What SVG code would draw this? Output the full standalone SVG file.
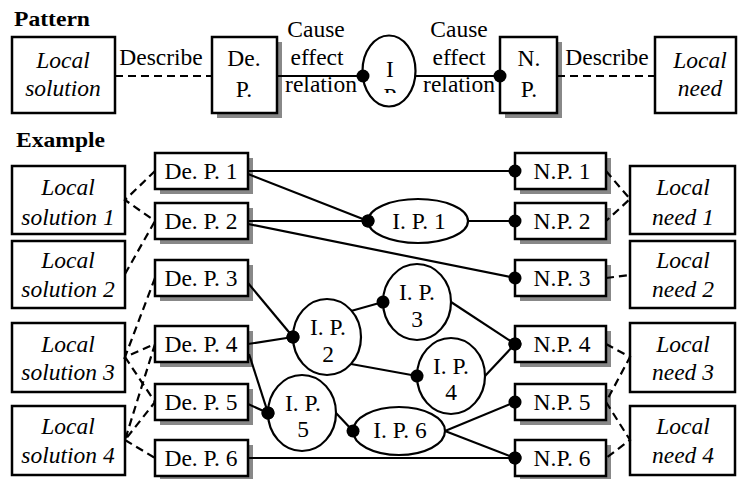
<svg xmlns="http://www.w3.org/2000/svg" width="739" height="479" viewBox="0 0 739 479" font-family="'Liberation Serif', 'DejaVu Serif', serif">
<defs>
<style>
.box{fill:#fff;stroke:#000;stroke-width:2.5}
.sh{fill:#888}
.el{fill:#fff;stroke:#000;stroke-width:2.2}
.ln{stroke:#000;stroke-width:2.2;fill:none}
.dl{stroke:#000;stroke-width:2.2;fill:none;stroke-dasharray:8 5}
text{font-family:'Liberation Serif','DejaVu Serif',serif}
.t{font-size:23.5px;text-anchor:middle;fill:#000}
.it{font-style:italic}
.h{font-size:21px;font-weight:bold;fill:#000}
</style>
<marker id="dot" viewBox="-7 -7 14 14" markerWidth="14" markerHeight="14" markerUnits="userSpaceOnUse" refX="0" refY="0" orient="auto">
<circle r="6.5" fill="#000"/>
</marker>
<clipPath id="ipclip"><rect x="360" y="35" width="60" height="58"/></clipPath>
</defs>
<rect width="739" height="479" fill="#fff"/>

<text class="h" x="14" y="26" textLength="76" lengthAdjust="spacingAndGlyphs">Pattern</text>
<text class="h" x="16" y="147" textLength="89" lengthAdjust="spacingAndGlyphs">Example</text>

<g id="p-local-solution">
<rect class="box" x="12" y="37" width="103" height="76"/>
<text class="t it" x="63" y="68">Local</text>
<text class="t it" x="63" y="96">solution</text>
</g>
<g id="p-dep">
<rect class="sh" x="217" y="42" width="65" height="76"/>
<rect class="box" x="212" y="37" width="65" height="76"/>
<text class="t" x="244" y="66">De.</text>
<text class="t" x="244" y="97">P.</text>
</g>
<g id="p-ip">
<ellipse class="el" cx="389" cy="71" rx="26.5" ry="35.5"/>
<text class="t" x="390" y="77">I</text>
<text class="t" x="390" y="104" clip-path="url(#ipclip)">P</text>
</g>
<g id="p-np">
<rect class="sh" x="505" y="42" width="57" height="76"/>
<rect class="box" x="500" y="37" width="57" height="76"/>
<text class="t" x="529" y="66">N.</text>
<text class="t" x="529" y="97">P.</text>
</g>
<g id="p-local-need">
<rect class="box" x="655" y="37" width="81" height="76"/>
<text class="t it" x="700" y="68">Local</text>
<text class="t it" x="700" y="96">need</text>
</g>

<g id="ls1"><rect class="box" x="12" y="166" width="113" height="68"/><text class="t it" x="68" y="195">Local</text><text class="t it" x="68" y="225">solution 1</text></g>
<g id="ls2"><rect class="box" x="12" y="241" width="113" height="67"/><text class="t it" x="68" y="268">Local</text><text class="t it" x="68" y="297">solution 2</text></g>
<g id="ls3"><rect class="box" x="12" y="323" width="113" height="69"/><text class="t it" x="68" y="352">Local</text><text class="t it" x="68" y="380">solution 3</text></g>
<g id="ls4"><rect class="box" x="12" y="406" width="113" height="69"/><text class="t it" x="68" y="434">Local</text><text class="t it" x="68" y="463">solution 4</text></g>

<g id="dep1"><rect class="sh" x="160" y="158" width="93" height="36"/><rect class="box" x="155" y="153" width="93" height="36"/><text class="t" x="201" y="179">De. P. 1</text></g>
<g id="dep2"><rect class="sh" x="160" y="208" width="93" height="36"/><rect class="box" x="155" y="203" width="93" height="36"/><text class="t" x="201" y="229">De. P. 2</text></g>
<g id="dep3"><rect class="sh" x="160" y="265" width="93" height="36"/><rect class="box" x="155" y="260" width="93" height="36"/><text class="t" x="201" y="286">De. P. 3</text></g>
<g id="dep4"><rect class="sh" x="160" y="331" width="93" height="36"/><rect class="box" x="155" y="326" width="93" height="36"/><text class="t" x="201" y="352">De. P. 4</text></g>
<g id="dep5"><rect class="sh" x="160" y="389" width="93" height="36"/><rect class="box" x="155" y="384" width="93" height="36"/><text class="t" x="201" y="410">De. P. 5</text></g>
<g id="dep6"><rect class="sh" x="160" y="445" width="93" height="36"/><rect class="box" x="155" y="440" width="93" height="36"/><text class="t" x="201" y="466">De. P. 6</text></g>

<g id="ip1"><ellipse class="el" cx="418" cy="221" rx="50" ry="22"/><text class="t" x="419" y="229">I. P. 1</text></g>
<g id="ip2"><ellipse class="el" cx="327" cy="337" rx="34" ry="38"/><text class="t" x="328" y="335">I. P.</text><text class="t" x="328" y="362">2</text></g>
<g id="ip3"><ellipse class="el" cx="417" cy="302" rx="34" ry="38"/><text class="t" x="417" y="300">I. P.</text><text class="t" x="417" y="327">3</text></g>
<g id="ip4"><ellipse class="el" cx="451" cy="376" rx="34" ry="38"/><text class="t" x="451" y="374">I. P.</text><text class="t" x="451" y="400">4</text></g>
<g id="ip5"><ellipse class="el" cx="302" cy="413" rx="34" ry="38"/><text class="t" x="303" y="411">I. P.</text><text class="t" x="303" y="437">5</text></g>
<g id="ip6"><ellipse class="el" cx="399" cy="431" rx="46" ry="24"/><text class="t" x="400" y="438">I. P. 6</text></g>

<g id="np1"><rect class="sh" x="520" y="158" width="91" height="36"/><rect class="box" x="515" y="153" width="91" height="36"/><text class="t" x="562" y="179">N.P. 1</text></g>
<g id="np2"><rect class="sh" x="520" y="208" width="91" height="36"/><rect class="box" x="515" y="203" width="91" height="36"/><text class="t" x="562" y="229">N.P. 2</text></g>
<g id="np3"><rect class="sh" x="520" y="265" width="91" height="36"/><rect class="box" x="515" y="260" width="91" height="36"/><text class="t" x="562" y="286">N.P. 3</text></g>
<g id="np4"><rect class="sh" x="520" y="331" width="91" height="36"/><rect class="box" x="515" y="326" width="91" height="36"/><text class="t" x="562" y="352">N.P. 4</text></g>
<g id="np5"><rect class="sh" x="520" y="389" width="91" height="36"/><rect class="box" x="515" y="384" width="91" height="36"/><text class="t" x="562" y="410">N.P. 5</text></g>
<g id="np6"><rect class="sh" x="520" y="445" width="91" height="36"/><rect class="box" x="515" y="440" width="91" height="36"/><text class="t" x="562" y="466">N.P. 6</text></g>

<g id="ln1"><rect class="box" x="630" y="166" width="105" height="68"/><text class="t it" x="683" y="195">Local</text><text class="t it" x="683" y="225">need 1</text></g>
<g id="ln2"><rect class="box" x="630" y="241" width="105" height="67"/><text class="t it" x="683" y="268">Local</text><text class="t it" x="683" y="297">need 2</text></g>
<g id="ln3"><rect class="box" x="630" y="323" width="105" height="69"/><text class="t it" x="683" y="352">Local</text><text class="t it" x="683" y="380">need 3</text></g>
<g id="ln4"><rect class="box" x="630" y="406" width="105" height="69"/><text class="t it" x="683" y="434">Local</text><text class="t it" x="683" y="463">need 4</text></g>

<g id="connectors">
<line class="dl" x1="115" y1="76" x2="212" y2="76"/>
<text class="t" x="161" y="65">Describe</text>
<line class="ln" x1="277" y1="76" x2="363" y2="76" marker-end="url(#dot)"/>
<text class="t" x="316" y="37">Cause</text>
<text class="t" x="317" y="65">effect</text>
<text class="t" x="321" y="92">relation</text>
<line class="ln" x1="416" y1="76" x2="500" y2="76" marker-end="url(#dot)"/>
<text class="t" x="459" y="37">Cause</text>
<text class="t" x="459" y="65">effect</text>
<text class="t" x="459" y="92">relation</text>
<line class="dl" x1="557" y1="76" x2="655" y2="76"/>
<text class="t" x="607" y="65">Describe</text>

<path class="dl" d="M155,171 L125,200 L155,221"/>
<path class="dl" d="M125,274 L155,221"/>
<path class="dl" d="M155,278 L125,357 L155,344 M125,357 L155,402"/>
<path class="dl" d="M155,344 L125,440 L155,402 M125,440 L155,458"/>
<path class="dl" d="M606,171 L630,199 L606,221"/>
<path class="dl" d="M606,278 L630,275"/>
<path class="dl" d="M606,344 L630,357 L606,402"/>
<path class="dl" d="M606,402 L630,440 L606,458"/>

<line class="ln" x1="248" y1="171" x2="515" y2="171" marker-end="url(#dot)"/>
<line class="ln" x1="248" y1="174" x2="368" y2="221" marker-end="url(#dot)"/>
<line class="ln" x1="248" y1="221" x2="368" y2="221" marker-end="url(#dot)"/>
<line class="ln" x1="248" y1="224" x2="515" y2="278" marker-end="url(#dot)"/>
<line class="ln" x1="468" y1="221" x2="515" y2="221" marker-end="url(#dot)"/>
<line class="ln" x1="248" y1="283" x2="293" y2="337" marker-end="url(#dot)"/>
<line class="ln" x1="248" y1="344" x2="293" y2="337" marker-end="url(#dot)"/>
<line class="ln" x1="249" y1="354" x2="268" y2="413" marker-end="url(#dot)"/>
<line class="ln" x1="248" y1="404" x2="268" y2="413" marker-end="url(#dot)"/>
<line class="ln" x1="351" y1="311" x2="383" y2="302" marker-end="url(#dot)"/>
<line class="ln" x1="351" y1="364" x2="417" y2="376" marker-end="url(#dot)"/>
<line class="ln" x1="451" y1="302" x2="515" y2="344" marker-end="url(#dot)"/>
<line class="ln" x1="485" y1="376" x2="515" y2="344" marker-end="url(#dot)"/>
<line class="ln" x1="336" y1="413" x2="353" y2="431" marker-end="url(#dot)"/>
<line class="ln" x1="445" y1="431" x2="515" y2="402" marker-end="url(#dot)"/>
<line class="ln" x1="445" y1="431" x2="515" y2="458" marker-end="url(#dot)"/>
<line class="ln" x1="248" y1="458" x2="515" y2="458" marker-end="url(#dot)"/>
</g>
</svg>
